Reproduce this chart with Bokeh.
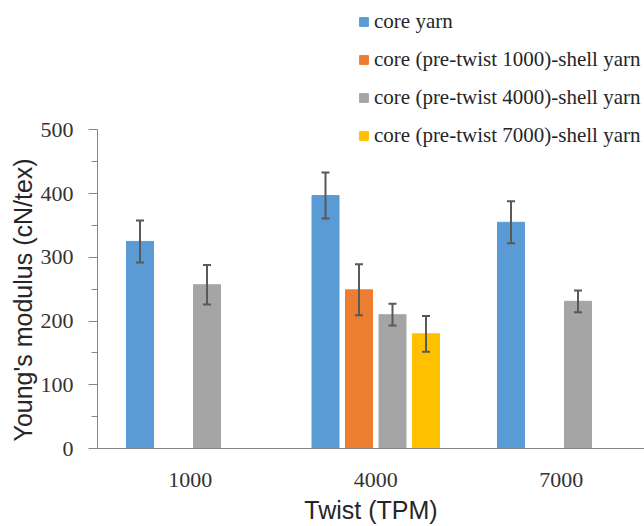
from bokeh.plotting import figure
from bokeh.models import (ColumnDataSource, Range1d, FixedTicker, Whisker, TeeHead,
                          Legend, LegendItem, Title)
from bokeh.embed import file_html
from bokeh.resources import INLINE

# ---- data ----
twist_labels = ["1000", "4000", "7000"]
series_names = ["core yarn",
                "core (pre-twist 1000)-shell yarn",
                "core (pre-twist 4000)-shell yarn",
                "core (pre-twist 7000)-shell yarn"]
core_yarn = [325, 397, 355]
core_yarn_err = [33, 36, 33]
pre1000 = [None, 249, None]
pre1000_err = [None, 40, None]
pre4000 = [257, 210, 231]
pre4000_err = [31, 17, 17]
pre7000 = [None, 180, None]
pre7000_err = [None, 28, None]
colors = ["#5B9BD5", "#ED7D31", "#A5A5A5", "#FFC000"]

y_ticks = [0, 100, 200, 300, 400, 500]
y_minor = [50, 150, 250, 350, 450]
y_max = 500

values = [core_yarn, pre1000, pre4000, pre7000]
errors = [core_yarn_err, pre1000_err, pre4000_err, pre7000_err]

W, H = 644, 526
left, bottom = 97, 76
axis_top_px = 130
cat_px = 185.5
frame_w = W - left
frame_h = H - bottom
px_per_unit = (frame_h - axis_top_px) / y_max

p = figure(width=W, height=H, output_backend="svg", toolbar_location=None,
           x_range=Range1d(0.5, 0.5 + frame_w / cat_px),
           y_range=Range1d(0, frame_h / px_per_unit),
           min_border_left=left, min_border_right=0, min_border_top=0,
           min_border_bottom=bottom)
p.outline_line_color = None
p.xgrid.visible = False
p.ygrid.visible = False
p.background_fill_color = "white"
p.border_fill_color = "white"

slot = 33.5 / cat_px
bar_w = 27 / cat_px
offsets = [-1.5 * slot, -0.5 * slot, 0.5 * slot, 1.5 * slot]

items = []
for i, (vals, errs) in enumerate(zip(values, errors)):
    xs, tops, up, lo = [], [], [], []
    for j, (v, e) in enumerate(zip(vals, errs)):
        if v is None:
            continue
        xs.append(j + 1 + offsets[i])
        tops.append(v)
        up.append(v + e)
        lo.append(v - e)
    src = ColumnDataSource(dict(x=xs, top=tops, upper=up, lower=lo))
    r = p.vbar(x="x", top="top", width=bar_w, bottom=0, source=src,
               fill_color=colors[i], line_color=colors[i], line_width=1)
    items.append(LegendItem(label=series_names[i], renderers=[r]))
    wk = Whisker(source=src, base="x", upper="upper", lower="lower",
                 line_color="#595959", line_width=2, level="overlay",
                 upper_head=TeeHead(size=8, line_color="#595959", line_width=2),
                 lower_head=TeeHead(size=8, line_color="#595959", line_width=2))
    p.add_layout(wk)

# axes
p.yaxis.bounds = (0, y_max)
p.yaxis.ticker = FixedTicker(ticks=y_ticks, minor_ticks=y_minor)
p.yaxis.major_tick_out = 9
p.yaxis.major_tick_in = 0
p.yaxis.minor_tick_out = 6
p.yaxis.minor_tick_in = 0
p.yaxis.axis_line_color = "#868686"
p.yaxis.major_tick_line_color = "#868686"
p.yaxis.minor_tick_line_color = "#868686"
p.yaxis.major_label_text_font = "Liberation Serif"
p.yaxis.major_label_text_font_size = "22px"
p.yaxis.major_label_text_color = "#333333"
p.yaxis.major_label_standoff = 15

# y-axis title as a side-panel title, started just above the bottom of the axis
ytitle = Title(text="Young's modulus (cN/tex)", align="left", offset=7,
               text_font="Liberation Sans", text_font_size="25px",
               text_font_style="normal", text_color="#262626",
               standoff=2)
p.add_layout(ytitle, "left")

p.xaxis.ticker = FixedTicker(ticks=[1, 2, 3], minor_ticks=[])
p.xaxis.major_label_overrides = {1: twist_labels[0], 2: twist_labels[1], 3: twist_labels[2]}
p.xaxis.major_tick_out = 0
p.xaxis.major_tick_in = 0
p.xaxis.minor_tick_out = 0
p.xaxis.minor_tick_in = 0
p.xaxis.axis_line_color = "#868686"
p.xaxis.major_label_text_font = "Liberation Serif"
p.xaxis.major_label_text_font_size = "22px"
p.xaxis.major_label_text_color = "#333333"
p.xaxis.major_label_standoff = 24
p.xaxis.axis_label = "Twist (TPM)"
p.xaxis.axis_label_text_font = "Liberation Sans"
p.xaxis.axis_label_text_font_size = "25px"
p.xaxis.axis_label_text_font_style = "normal"
p.xaxis.axis_label_text_color = "#262626"
p.xaxis.axis_label_standoff = 6

legend = Legend(items=items, location=(261, 300))
legend.label_text_font = "Liberation Serif"
legend.label_text_font_size = "21px"
legend.label_text_color = "#262626"
legend.glyph_width = 11
legend.glyph_height = 11
legend.label_standoff = 5
legend.label_height = 25
legend.spacing = 13
legend.padding = 0
legend.margin = 0
legend.border_line_alpha = 0
legend.background_fill_alpha = 0
p.add_layout(legend)

open("out.html", "w").write(file_html(p, INLINE))
